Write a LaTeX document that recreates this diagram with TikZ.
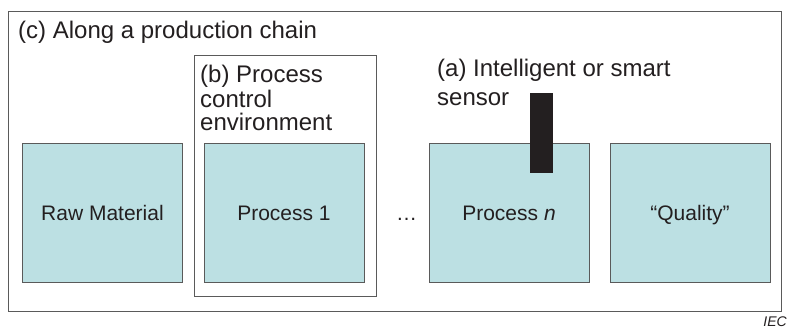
\documentclass[tikz,border=0pt]{standalone}
\usepackage{fontspec}
\setmainfont{Liberation Sans}
\definecolor{stagefill}{HTML}{BCE0E3}
\definecolor{framegray}{HTML}{5A5A5A}
\definecolor{inkdark}{HTML}{231F20}
\begin{document}
\begin{tikzpicture}[x=1pt,y=-1pt,
  frame/.style={draw=framegray,line width=1pt,fill=none,inner sep=0pt},
  stage/.style={draw=framegray,line width=1pt,fill=stagefill,inner sep=0pt,
    minimum width=160pt,minimum height=138.5pt,text=inkdark,
    text height=16pt,text depth=0pt,
    font=\fontsize{21}{25}\selectfont},
  caption/.style={inner sep=0pt,text=inkdark,font=\fontsize{24}{28}\selectfont},
]
\useasboundingbox (0,0) rectangle (790,329);
\fill[white] (0,0) rectangle (790,329);

% outer frame: the whole production chain
\node[frame,minimum width=772.5pt,minimum height=299pt] (chain) at (394.75,161.5) {};
\node[caption,anchor=base west] (chainlbl) at (18,39) {(c) Along a production chain};

% process control environment around Process 1
\node[frame,minimum width=182pt,minimum height=240pt] (env) at (285,176) {};
\node[caption,anchor=base west] (envlbl1) at (200,83) {(b) Process};
\node[caption,anchor=base west] (envlbl2) at (200,107) {control};
\node[caption,anchor=base west] (envlbl3) at (200,130.5) {environment};

% stages of the chain
\node[stage] (raw) at (102.5,212.75) {Raw Material};
\node[stage] (p1) at (284,212.75) {Process 1};
\node[stage] (pn) at (509,212.75) {Process \textit{n}};
\node[stage] (quality) at (690,212.75) {“Quality”};
\node[inner sep=0pt,text=inkdark,font=\fontsize{21}{25}\selectfont,anchor=base]
  (dots) at (406.5,220.5) {…};

% smart sensor dipping into Process n
\node[fill=inkdark,inner sep=0pt,minimum width=22.5pt,minimum height=80.5pt]
  (sensor) at (541.25,132.75) {};
\node[caption,anchor=base west] (sensorlbl1) at (437,77) {(a) Intelligent or smart};
\node[caption,anchor=base west] (sensorlbl2) at (437,106) {sensor};

% source mark
\node[inner sep=0pt,text=inkdark,font=\fontsize{14}{16}\selectfont\itshape,anchor=base east]
  (iec) at (787,326.5) {IEC};
\end{tikzpicture}
\end{document}
